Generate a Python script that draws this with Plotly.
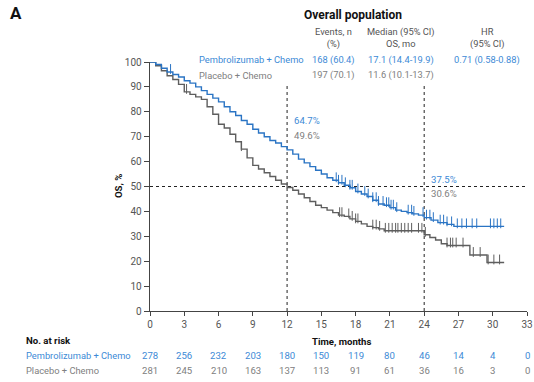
import plotly.graph_objects as go
import numpy as np

# ---------------- data ----------------
pem_t = [0, 0.5, 1.0, 1.5, 2.0, 2.5, 3.0, 3.5, 4.0, 4.5, 5.0, 5.5, 6.0, 6.5, 7.0, 7.5, 8.0, 8.5,
         9.0, 9.5, 10.0, 10.5, 11.0, 11.5, 12.0, 12.5, 13.0, 13.5, 14.0, 14.5, 15.0, 15.5, 16.0,
         16.5, 17.0, 17.5, 18.0, 18.5, 19.0, 19.5, 20.0, 20.5, 21.0, 21.5, 22.0, 22.5, 23.0,
         23.5, 24.0, 24.6, 25.2, 26.0, 26.6, 31.0]
pem_s = [100, 99, 97.5, 96, 95, 94, 92.5, 91.5, 90, 88.5, 87, 85.5, 84, 82, 80, 78.5, 76.5, 75,
         73, 71.5, 70, 68.5, 67.5, 66, 64.7, 63, 61, 59.5, 58, 56.5, 55, 53.5, 52.5,
         51.5, 50.5, 49.5, 48, 47, 46, 44.5, 43, 42.5, 41.5, 40.5, 40, 39.5, 39,
         38.5, 37.5, 36.5, 35.5, 34.8, 34, 34]
pbo_t = [0, 0.5, 1.0, 1.5, 2.0, 2.5, 3.0, 3.5, 4.0, 4.5, 5.0, 5.5, 6.0, 6.5, 7.0, 7.5, 8.0, 8.5,
         9.0, 9.5, 10.0, 10.5, 11.0, 11.5, 12.0, 12.5, 13.0, 13.5, 14.0, 14.5, 15.0, 15.5, 16.0,
         16.5, 17.0, 17.5, 18.0, 18.5, 19.0, 19.5, 20.0, 20.5, 24.0, 24.5, 25.0, 25.5, 26.0,
         28.0, 29.5, 31.0]
pbo_s = [100, 98.5, 96.5, 94.5, 93, 91, 88, 87, 86, 85, 82, 79, 75, 73.5, 71, 68, 65, 61.5,
         58.5, 57, 55.5, 54, 52.5, 51, 49.6, 48.5, 47, 45.5, 44, 42.5, 41.5, 40.5, 39.5,
         38.5, 38, 37, 36, 35, 34, 33.5, 33, 32.2, 30.6, 29.5, 28.5, 27, 26.3,
         22.5, 19.5, 19.5]
pem_cens = [1.8, 16.3, 16.5, 16.8, 17.1, 17.5, 17.7, 18.2, 18.8, 19.1, 19.5, 19.8, 20.0,
            20.4, 20.7, 20.9, 21.1, 21.3, 21.6, 22.6, 22.9, 23.1, 23.9, 24.2, 24.5, 24.8,
            25.4, 25.7, 26.0, 26.4, 26.9, 27.3, 27.7, 28.2, 28.6, 29.8, 30.1, 30.4, 30.7]
pbo_cens = [3.2, 8.0, 16.6, 16.8, 17.4, 17.7, 18.0, 18.2, 19.5, 19.8, 20.1, 20.6, 20.9, 21.2,
            21.5, 21.7, 22.0, 22.3, 22.6, 22.9, 23.5, 23.8, 24.1, 26.0, 26.3, 26.5, 26.8,
            27.4, 28.3, 28.9, 29.6, 30.1, 30.6]
risk_times = [0, 3, 6, 9, 12, 15, 18, 21, 24, 27, 30, 33]
pem_risk = [278, 256, 232, 203, 180, 150, 119, 80, 46, 14, 4, 0]
pbo_risk = [281, 245, 210, 163, 137, 113, 91, 61, 36, 16, 3, 0]
landmarks = [12, 24]
pem_land = ["64.7%", "37.5%"]
pbo_land = ["49.6%", "30.6%"]
x_ticks = list(range(0, 34, 3))
y_ticks = list(range(0, 101, 10))

BLUE = "#2a74c4"
BLUE_TXT = "#3d8ad6"
GREY = "#5e5e5e"
GREY_TXT = "#808080"
FONT = "Roboto"

PL, PR, PT, PB = 150, 527, 62, 311  # plot area in page pixels
W, H = 534, 382


def step_at(ts, ss, x):
    idx = np.searchsorted(np.array(ts), x, side="right") - 1
    return np.array(ss)[idx]


fig = go.Figure()

for lm in landmarks:
    fig.add_trace(go.Scatter(x=[lm, lm], y=[0, 90.5], mode="lines",
                             line=dict(color="#222", width=1, dash="dot"),
                             hoverinfo="skip", showlegend=False))
fig.add_trace(go.Scatter(x=[0, 33], y=[50, 50], mode="lines",
                         line=dict(color="#222", width=1, dash="dot"),
                         hoverinfo="skip", showlegend=False))

for ts, ss, cens, col in [(pbo_t, pbo_s, pbo_cens, GREY), (pem_t, pem_s, pem_cens, BLUE)]:
    fig.add_trace(go.Scatter(x=ts, y=ss, mode="lines", line=dict(color=col, width=1.4, shape="hv"),
                             cliponaxis=False, showlegend=False))
    cy = [step_at(ts, ss, c) + 1.2 for c in cens]
    fig.add_trace(go.Scatter(x=cens, y=cy, mode="markers",
                             marker=dict(symbol="line-ns", size=7, line=dict(color=col, width=1)),
                             cliponaxis=False, showlegend=False))

fig.update_layout(
    width=W, height=H,
    margin=dict(l=PL, r=W - PR, t=PT, b=H - PB, pad=0, autoexpand=False),
    paper_bgcolor="white", plot_bgcolor="white",
    font=dict(family=FONT, size=10, color="#555"),
    showlegend=False,
    xaxis=dict(range=[0, 33], tickvals=x_ticks, showgrid=False, zeroline=False, automargin=False,
               showline=True, linecolor="#444", linewidth=1.3, ticks="outside",
               ticklen=4, tickcolor="#444", tickfont=dict(size=10, color="#555")),
    yaxis=dict(range=[0, 100], tickvals=y_ticks, showgrid=False, zeroline=False, automargin=False,
               showline=True, linecolor="#444", linewidth=1.3, ticks="outside",
               ticklen=5, tickcolor="#444", tickfont=dict(size=10, color="#555")),
)

ann = []


def px(x):
    return (x - PL) / (PR - PL)


def py(y):
    return (PB - y) / (PB - PT)


def A(x, y, text, xanchor="center", color="#555", size=9.3, bold=False, xref="paper", **kw):
    if bold:
        text = "<b>" + text + "</b>"
    ann.append(dict(x=x, y=y, xref=xref, yref="paper", text=text, showarrow=False,
                    xanchor=xanchor, yanchor="middle", font=dict(family=FONT, size=size, color=color), **kw))


A(px(8), py(13), "A", xanchor="left", color="#111", size=17, bold=True)
A(px(353), py(15), "Overall population", color="#111", size=12, bold=True)
A(px(333), py(38), "Events, n<br>(%)", color="#555", size=9.3)
A(px(401), py(38), "Median (95% CI)<br>OS, mo", color="#555", size=9.3)
A(px(487), py(38), "HR<br>(95% CI)", color="#555", size=9.3)
A(px(197), py(60), "Pembrolizumab + Chemo", xanchor="left", color=BLUE_TXT)
A(px(333), py(60), "168 (60.4)", color=BLUE_TXT)
A(px(401), py(60), "17.1 (14.4-19.9)", color=BLUE_TXT)
A(px(487), py(60), "0.71 (0.58-0.88)", color=BLUE_TXT)
A(px(197), py(75), "Placebo + Chemo", xanchor="left", color=GREY_TXT)
A(px(333), py(75), "197 (70.1)", color=GREY_TXT)
A(px(401), py(75), "11.6 (10.1-13.7)", color=GREY_TXT)

A(px(292), py(121), pem_land[0], xanchor="left", color=BLUE_TXT, size=9.6)
A(px(292), py(135), pbo_land[0], xanchor="left", color=GREY_TXT, size=9.6)
A(px(429), py(179), pem_land[1], xanchor="left", color=BLUE_TXT, size=9.6)
A(px(429), py(193), pbo_land[1], xanchor="left", color=GREY_TXT, size=9.6)

A(px(118), py(186), "OS, %", color="#111", size=9.6, bold=True, textangle=-90)
A(px(341), py(341), "Time, months", color="#111", size=9.6, bold=True)
A(px(24), py(340), "No. at risk", xanchor="left", color="#111", size=9.6, bold=True)
A(px(24), py(355), "Pembrolizumab + Chemo", xanchor="left", color=BLUE_TXT)
A(px(24), py(370), "Placebo + Chemo", xanchor="left", color=GREY_TXT)
for t, a, b in zip(risk_times, pem_risk, pbo_risk):
    A(t, py(355), str(a), xref="x", color=BLUE_TXT, size=9.6)
    A(t, py(370), str(b), xref="x", color=GREY_TXT, size=9.6)

fig.update_layout(annotations=ann)
fig.write_html("out.html",
               config={"displayModeBar": False, "staticPlot": True},
               post_script="document.body.style.margin='0';document.body.style.overflow='hidden';")
